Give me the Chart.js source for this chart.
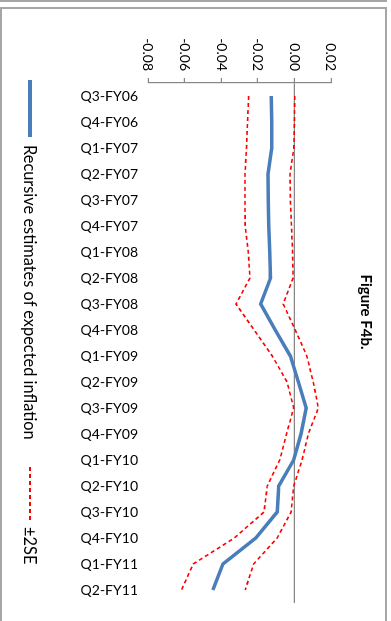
<!DOCTYPE html>
<html>
<head>
<meta charset="utf-8">
<script src="https://cdn.jsdelivr.net/npm/chart.js@4/dist/chart.umd.min.js"></script>
<style>
  html, body { margin: 0; padding: 0; background: #fff; }
  body { width: 391px; height: 621px; position: relative; overflow: hidden; }
  .frame { position: absolute; box-sizing: border-box; border: 2px solid #a6a6a6; }
  #upper { left: 0; top: -20px; width: 387px; height: 22px; }
  #box { left: 0; top: 7px; width: 387px; height: 640px; }
  /* the chart is drawn landscape, then turned a quarter clockwise */
  #turn { position: absolute; left: 0; top: 0; width: 621px; height: 391px;
          transform-origin: 0 0; transform: translate(391px, 0) rotate(90deg); }
  #legend { position: absolute; left: 0; top: 351px; width: 621px; height: 20px;
            font: 16.4px Lato, "Open Sans", sans-serif; color: #000; }
  #legend span { position: absolute; top: 0; line-height: 20px; white-space: nowrap; }
  #legend .swatch { top: 10px; line-height: 0; }
</style>
</head>
<body>
<div class="frame" id="upper"></div>
<div class="frame" id="box"></div>
<div id="turn">
  <canvas id="c" width="621" height="391"></canvas>
  <div id="legend"></div>
</div>
<script>
// ---- data ----
const quarters = ['Q3-FY06', 'Q4-FY06', 'Q1-FY07', 'Q2-FY07', 'Q3-FY07', 'Q4-FY07',
  'Q1-FY08', 'Q2-FY08', 'Q3-FY08', 'Q4-FY08', 'Q1-FY09', 'Q2-FY09', 'Q3-FY09',
  'Q4-FY09', 'Q1-FY10', 'Q2-FY10', 'Q3-FY10', 'Q4-FY10', 'Q1-FY11', 'Q2-FY11'];

const estimate = [-0.0126, -0.0124, -0.0124, -0.0144, -0.0143, -0.0140, -0.0135, -0.0130,
  -0.0184, -0.0105, -0.0022, 0.0022, 0.0065, 0.0036, -0.0004, -0.0085, -0.0094, -0.0211,
  -0.0391, -0.0445];

const upperSE = [0.0002, 0.0000, -0.0003, -0.0024, -0.0022, -0.0016, -0.0010, -0.0007,
  -0.0061, 0.0005, 0.0068, 0.0103, 0.0131, 0.0076, 0.0042, -0.0004, -0.0018, -0.0094,
  -0.0223, -0.0269];

const lowerSE = [-0.0250, -0.0256, -0.0262, -0.0270, -0.0270, -0.0269, -0.0252, -0.0243,
  -0.0319, -0.0220, -0.0121, -0.0040, -0.0004, -0.0043, -0.0080, -0.0148, -0.0166, -0.0328,
  -0.0553, -0.0617];

const yMin = -0.08, yMax = 0.02, yStep = 0.02;

const FONT = 'Lato, "Open Sans", sans-serif';
const AXIS_GREY = '#868686';
const BLUE = '#4a7ebb', RED = '#ff0000';
Chart.defaults.font.family = FONT;
Chart.defaults.color = '#000';

const chart = new Chart(document.getElementById('c'), {
  type: 'line',
  data: {
    labels: quarters,
    datasets: [
      { label: 'Recursive estimates of expected inflation', data: estimate,
        borderColor: BLUE, borderWidth: 3.5, pointRadius: 0, tension: 0 },
      { label: '\u00b12SE', data: upperSE,
        borderColor: RED, borderWidth: 1.6, borderDash: [4, 3], pointRadius: 0 },
      { label: '\u00b12SE', data: lowerSE,
        borderColor: RED, borderWidth: 1.6, borderDash: [4, 3], pointRadius: 0 }
    ]
  },
  options: {
    responsive: false,
    animation: false,
    layout: { padding: { left: 21, right: 18, top: 0, bottom: 0 } },
    plugins: {
      title: { display: true, text: 'Figure F4b.', font: { size: 15, weight: 'bold' },
               padding: { top: 16, bottom: 26 } },
      legend: { display: false },
      tooltip: { enabled: false }
    },
    scales: {
      x: {
        offset: true,
        grid: { display: false, drawTicks: false },
        border: { display: false },
        ticks: { autoSkip: false, minRotation: 90, maxRotation: 90, padding: 10,
                 font: { size: 14 } },
        afterFit: s => { s.height = 148; }
      },
      y: {
        min: yMin, max: yMax,
        grid: {
          color: c => (c.tick && Math.abs(c.tick.value) < 1e-9) ? AXIS_GREY : 'rgba(0,0,0,0)',
          tickColor: AXIS_GREY, tickLength: 5, lineWidth: 1.2
        },
        border: { display: true, color: AXIS_GREY, width: 1.2 },
        ticks: { stepSize: yStep, padding: 7, font: { size: 14 },
                 callback: v => (Math.abs(v) < 1e-9 ? 0 : v).toFixed(2) },
        afterFit: s => { s.width = 62; }
      }
    }
  }
});

// legend laid out like the Excel original: swatch + label, placed along the bottom
const legendSpots = [
  { ds: 0, x: 80, w: 57, textX: 145 },
  { ds: 1, x: 467, w: 53, textX: 527 }
];
const legendEl = document.getElementById('legend');
legendSpots.forEach(spot => {
  const ds = chart.data.datasets[spot.ds];
  const sw = document.createElement('span');
  sw.className = 'swatch';
  sw.style.left = spot.x + 'px';
  sw.style.width = spot.w + 'px';
  sw.style.height = ds.borderWidth + 'px';
  sw.style.marginTop = (-ds.borderWidth / 2) + 'px';
  sw.style.background = ds.borderDash
    ? `repeating-linear-gradient(90deg, ${ds.borderColor} 0 ${ds.borderDash[0]}px, transparent ${ds.borderDash[0]}px ${ds.borderDash[0] + ds.borderDash[1]}px)`
    : ds.borderColor;
  legendEl.appendChild(sw);
  const tx = document.createElement('span');
  tx.style.left = spot.textX + 'px';
  tx.textContent = ds.label;
  legendEl.appendChild(tx);
});
</script>
</body>
</html>
